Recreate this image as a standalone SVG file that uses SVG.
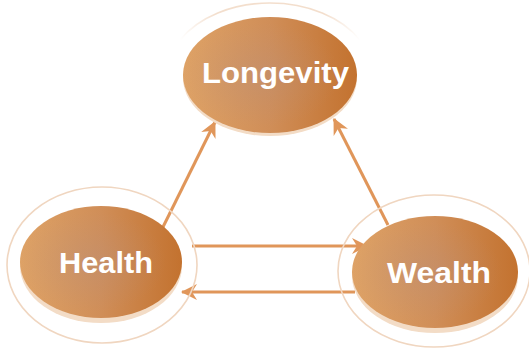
<svg xmlns="http://www.w3.org/2000/svg" width="529" height="354" viewBox="0 0 529 354">
  <defs>
    <linearGradient id="body" x1="0" y1="0" x2="1" y2="0">
      <stop offset="0" stop-color="#DEA266"/>
      <stop offset="0.5" stop-color="#D08E58"/>
      <stop offset="1" stop-color="#C3722F"/>
    </linearGradient>
    <radialGradient id="tint" cx="0.45" cy="0.5" r="0.45">
      <stop offset="0" stop-color="#B8907E" stop-opacity="0.4"/>
      <stop offset="1" stop-color="#B8907E" stop-opacity="0"/>
    </radialGradient>
    <linearGradient id="arcfade" x1="180" y1="0" x2="360" y2="0" gradientUnits="userSpaceOnUse">
      <stop offset="0" stop-color="#F0D6C0" stop-opacity="0"/>
      <stop offset="0.2" stop-color="#F0D6C0" stop-opacity="0.8"/>
      <stop offset="0.8" stop-color="#F0D6C0" stop-opacity="0.8"/>
      <stop offset="1" stop-color="#F0D6C0" stop-opacity="0"/>
    </linearGradient>
    <marker id="arrow" viewBox="0 0 16 16" markerWidth="16" markerHeight="16" refX="15" refY="8" orient="auto" markerUnits="userSpaceOnUse">
      <path d="M0,0 L16,8 L0,16 L5,8 z" fill="#E0965A"/>
    </marker>
  </defs>
  <style>
    .ring { fill: none; stroke: #F0D6C0; stroke-width: 1.6; }
    .rim { fill: #F3DCC6; }
    .body { fill: url(#body); }
    .tint { fill: url(#tint); }
    .label { font-family: "Liberation Sans", Arial, sans-serif; font-weight: bold; font-size: 30px; fill: #FFFFFF; }
    .edge { fill: none; stroke: #E0965A; stroke-width: 3; marker-end: url(#arrow); }
  </style>
  <rect width="529" height="354" fill="#FFFFFF"/>

  <g id="connectors">
    <line class="edge" x1="163" y1="227" x2="215" y2="122"/>
    <line class="edge" x1="388" y1="225" x2="334" y2="119"/>
    <line class="edge" x1="192" y1="246" x2="367" y2="246"/>
    <line class="edge" x1="355" y1="292" x2="182" y2="292"/>
  </g>

  <g id="node-longevity">
    <path class="ring" d="M180,40 A103,72 0 0 1 360,40" style="stroke: url(#arcfade)"/>
    <ellipse class="rim" cx="270" cy="78" rx="87" ry="58"/>
    <ellipse class="body" cx="270" cy="75" rx="87" ry="58"/>
    <ellipse class="tint" cx="270" cy="75" rx="87" ry="58"/>
    <text class="label" x="202" y="83" textLength="147" lengthAdjust="spacingAndGlyphs">Longevity</text>
  </g>

  <g id="node-health">
    <ellipse class="ring" cx="102" cy="265" rx="95" ry="78"/>
    <ellipse class="rim" cx="101" cy="266" rx="81" ry="57"/>
    <ellipse class="body" cx="101" cy="262" rx="81" ry="56"/>
    <ellipse class="tint" cx="101" cy="262" rx="81" ry="56"/>
    <text class="label" x="59" y="273" textLength="94" lengthAdjust="spacingAndGlyphs">Health</text>
  </g>

  <g id="node-wealth">
    <ellipse class="ring" cx="434" cy="271" rx="96" ry="76"/>
    <ellipse class="rim" cx="435" cy="276" rx="83" ry="57"/>
    <ellipse class="body" cx="435" cy="272" rx="83" ry="56"/>
    <ellipse class="tint" cx="435" cy="272" rx="83" ry="56"/>
    <text class="label" x="387" y="283" textLength="104" lengthAdjust="spacingAndGlyphs">Wealth</text>
  </g>
</svg>
